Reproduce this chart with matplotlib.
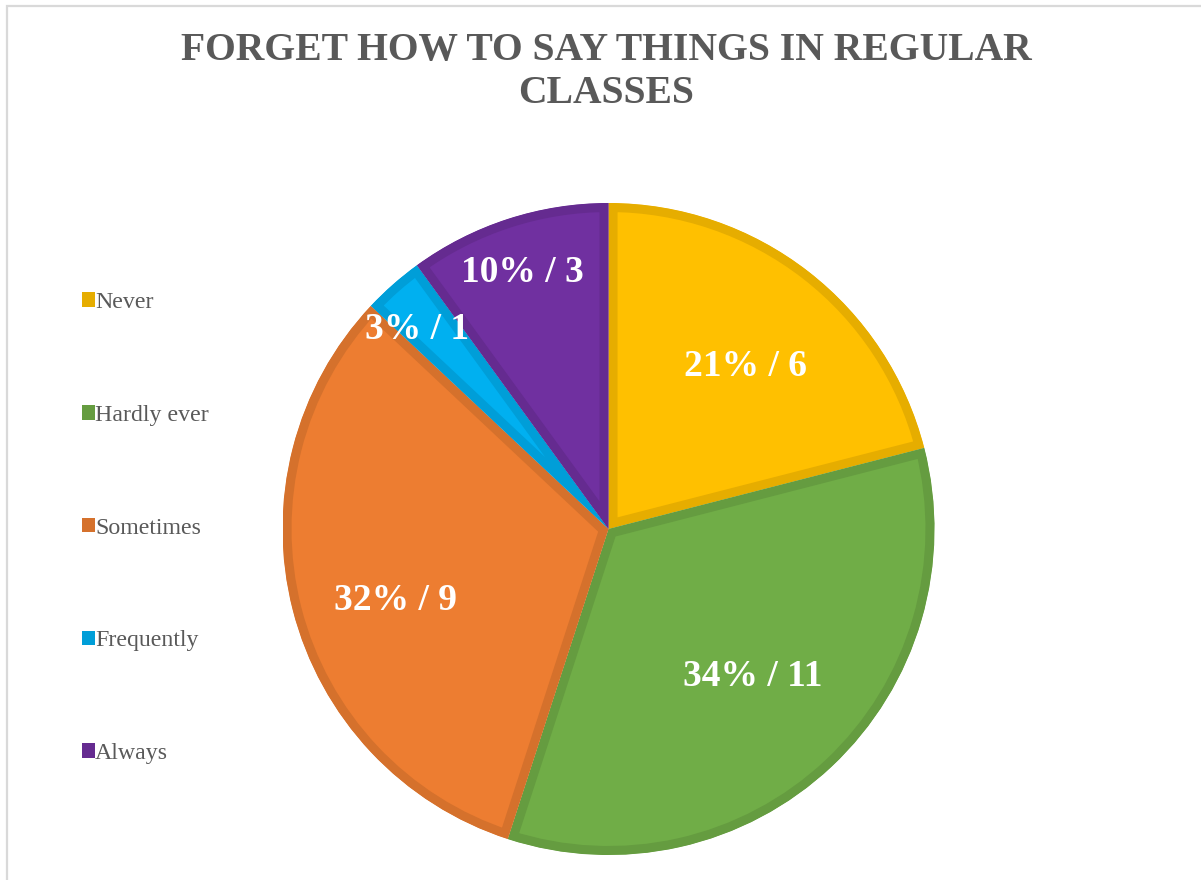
import matplotlib.pyplot as plt
import matplotlib.patches as mpatches
import numpy as np

# %% data
labels = ['Never', 'Hardly ever', 'Sometimes', 'Frequently', 'Always']
percents = [21, 34, 32, 3, 10]
counts = [6, 11, 9, 1, 3]

fills = ['#FFC000', '#70AD47', '#ED7D31', '#00B0F0', '#7030A0']
edges = ['#E6AD00', '#659C40', '#D5712C', '#009ED8', '#652B90']
# value label placement: fraction of radius, and clockwise nudge (deg) off mid-angle
label_r = [0.654, 0.634, 0.688, 0.847, 0.830]
label_shift = [2.35, -1.1, -4.2, -2.35, -0.5]

serif = ['Liberation Serif', 'DejaVu Serif']
grey = '#595959'

# %% figure
W, H = 1201, 880
fig = plt.figure(figsize=(W / 100, H / 100), dpi=100)

# light frame round the chart area
frame = mpatches.Rectangle((7 / W, -0.1), 1.2, 1 - 6 / H + 0.1,
                           transform=fig.transFigure, fill=False,
                           edgecolor='#D9D9D9', lw=1.6, zorder=0)
fig.patches.append(frame)

cx, cy, R = 608.5, 529, 326
ax = fig.add_axes([(cx - R) / W, (H - cy - R) / H, 2 * R / W, 2 * R / H])

wedges, _ = ax.pie(percents, colors=fills, startangle=90, counterclock=False,
                   radius=1)
ax.set_xlim(-1, 1)
ax.set_ylim(-1, 1)
ax.axis('off')

for w, ec, pct, n, r, sh in zip(wedges, edges, percents, counts,
                                label_r, label_shift):
    # inner border: thick edge clipped to the wedge itself
    w.set_edgecolor(ec)
    w.set_linewidth(13)
    w.set_clip_on(True)
    w.set_clip_path(w)
    mid = np.deg2rad((w.theta1 + w.theta2) / 2 - sh)
    ax.text(r * np.cos(mid), r * np.sin(mid), f'{pct}% / {n}',
            ha='center', va='center', color='white', fontsize=27,
            fontweight='bold', family=serif)

# %% title
fig.text(606 / W, 1 - 72 / H, 'FORGET HOW TO SAY THINGS IN REGULAR\nCLASSES',
         ha='center', va='center', color=grey, fontsize=28.5,
         fontweight='bold', family=serif, linespacing=1.2)

# %% legend
handles = [mpatches.Patch(facecolor=c, edgecolor='none') for c in edges]
fig.legend(handles, labels, loc='center left',
           bbox_to_anchor=(82 / W, 1 - 528 / H), frameon=False,
           prop={'family': serif, 'size': 17.2}, labelcolor=grey,
           handlelength=0.55, handleheight=0.55, handletextpad=0.0,
           labelspacing=3.84, borderpad=0, borderaxespad=0)

fig.savefig('out.png', dpi=100)
plt.close()
